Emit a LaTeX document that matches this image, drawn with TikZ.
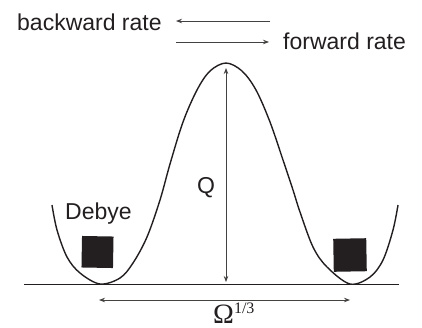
\documentclass[tikz,border=0pt]{standalone}
\usepackage{fontspec}
\setmainfont{Liberation Sans}
\newfontfamily\serifnum{Liberation Serif}
\usetikzlibrary{arrows.meta}
\definecolor{ink}{HTML}{231F20}
\tikzset{
  lbl/.style={inner sep=0pt, anchor=base west, text=ink, font=\fontsize{23}{26}\selectfont},
  thinarrow/.style={draw=ink!85, line width=0.8pt, -{Stealth[length=6pt,width=4.5pt]}},
  dblarrow/.style={draw=ink!85, line width=0.8pt, {Stealth[length=6pt,width=4.5pt]}-{Stealth[length=6pt,width=4.5pt]}},
  well/.style={draw=ink, line width=1.4pt, line join=round},
  blk/.style={fill=ink, draw=none, minimum size=31.5pt, inner sep=0pt}
}
\begin{document}
\begin{tikzpicture}[x=1pt,y=-1pt]
\useasboundingbox (0,0) rectangle (422,327);
% labels
\node[lbl] (bw) at (17,30) {backward rate};
\node[lbl] (fw) at (283,49) {forward rate};
\node[lbl] (deb) at (65,219) {Debye};
\node[lbl] (q) at (197,193) {Q};
\node[inner sep=0pt, anchor=base west, text=ink] (om) at (213,323.5)
  {\serifnum\fontsize{28}{29}\selectfont Ω\raisebox{10pt}{\fontsize{16}{16}\selectfont 1/3}};
% rate arrows
\coordinate (b1) at (270,21);
\coordinate (b2) at (176,21);
\coordinate (f1) at (176,42);
\coordinate (f2) at (269,42);
\draw[thinarrow] (b1) -- (b2);
\draw[thinarrow] (f1) -- (f2);
% baseline
\coordinate (g1) at (24,284);
\coordinate (g2) at (399,284);
\draw[draw=ink, line width=1pt] (g1) -- (g2);
% energy curve
\draw[well] plot[smooth, tension=0.55] coordinates {
 (52,205) (57,230) (67,257) (80,273) (100,284) (120,278) (133,263) (147,237)
 (160,200) (170,164) (183,122) (197,90) (210,71) (226,63) (242,71) (256,90)
 (270,122) (283,160) (293,190) (300,212) (313,247) (327,267) (350,284)
 (370,277) (383,260) (393,230) (398,205)};
% Q arrow
\coordinate (qt) at (226,68);
\coordinate (qb) at (226,282);
\draw[dblarrow] (qb) -- (qt);
% Omega arrow
\coordinate (o1) at (99,300);
\coordinate (o2) at (350,300);
\draw[dblarrow] (o1) -- (o2);
% particles
\node[blk, rotate=-1] (s1) at (97.5,252) {};
\node[blk, rotate=1, minimum size=33pt] (s2) at (350,255) {};
\end{tikzpicture}
\end{document}
